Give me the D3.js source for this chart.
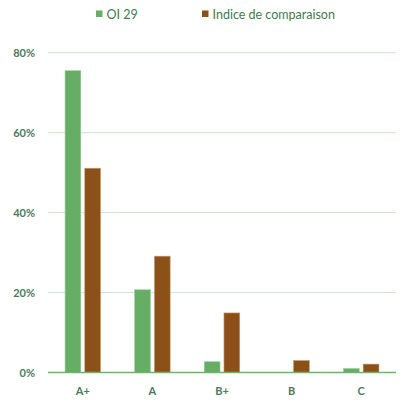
<!DOCTYPE html>
<html><head><meta charset="utf-8">
<script src="https://cdn.jsdelivr.net/npm/d3@7"></script>
<style>body{margin:0;background:#fff}svg{display:block}</style>
</head><body>
<script>
const categories = ["A+", "A", "B+", "B", "C"];
const seriesNames = ["OI 29", "Indice de comparaison"];
const oi29 = [75.5, 20.7, 2.7, 0, 1.0];
const indice = [51.1, 29.1, 14.9, 3.0, 2.1];
const yTicks = [0, 20, 40, 60, 80];
const colors = ["#66ad66", "#8b5118"];

(function(){
const W = 405, H = 401;
const mLeft = 48, mRight = 396, mTop = 52.7, mBottom = 372.5;
const svg = d3.select("body").append("svg").attr("width", W).attr("height", H);

const x0 = d3.scaleBand().domain(categories).range([mLeft, mRight]).paddingInner(0.49).paddingOuter(0.245);
const x1 = d3.scaleBand().domain(seriesNames).range([0, x0.bandwidth()]).paddingInner(0.2);
const y = d3.scaleLinear().domain([0, 80]).range([mBottom, mTop]);

const textCol = "#4b7a5c";
svg.append("g").selectAll("line").data(yTicks.filter(d => d > 0)).join("line")
  .attr("x1", mLeft).attr("x2", mRight)
  .attr("y1", d => y(d)).attr("y2", d => y(d))
  .attr("stroke", "#cde5cd").attr("stroke-width", 1);

const yAxis = svg.append("g").attr("transform", `translate(${mLeft - 10},0)`)
  .call(d3.axisLeft(y).tickValues(yTicks).tickFormat(d => d + "%").tickSize(0));
yAxis.select(".domain").remove();
yAxis.selectAll("text").attr("fill", textCol).style("font-family", "Lato, 'Open Sans', sans-serif")
  .style("font-size", "11px").style("font-weight", "bold").attr("dx", 0);

const series = [oi29, indice];
const g = svg.append("g");
categories.forEach((c, i) => {
  series.forEach((s, j) => {
    const v = s[i];
    if (v <= 0) return;
    g.append("rect")
      .attr("x", x0(c) + x1(seriesNames[j]))
      .attr("y", y(v))
      .attr("width", x1.bandwidth())
      .attr("height", y(0) - y(v))
      .attr("fill", colors[j])
      .attr("stroke", j === 0 ? "#9fcf9f" : "#c79a72").attr("stroke-width", 0.6);
  });
});

svg.append("line").attr("x1", mLeft).attr("x2", mRight).attr("y1", y(0)).attr("y2", y(0))
  .attr("stroke", "#6db56d").attr("stroke-width", 1.3);

const xAxis = svg.append("g").attr("transform", `translate(0,${y(0) + 12})`)
  .call(d3.axisBottom(x0).tickSize(0));
xAxis.select(".domain").remove();
xAxis.selectAll("text").attr("fill", textCol).style("font-family", "Lato, 'Open Sans', sans-serif")
  .style("font-size", "11px").style("font-weight", "bold");

const legendX = [96, 202];
const leg = svg.append("g");
seriesNames.forEach((n, j) => {
  leg.append("rect").attr("x", legendX[j]).attr("y", 10.5).attr("width", 6.5).attr("height", 6.5).attr("fill", colors[j]);
  leg.append("text").attr("x", legendX[j] + 10.5).attr("y", 18.5).text(n)
    .attr("fill", "#3f7a50").style("font-family", "Lato, 'Open Sans', sans-serif").style("font-size", "12.5px");
});
})();
</script>
</body></html>
